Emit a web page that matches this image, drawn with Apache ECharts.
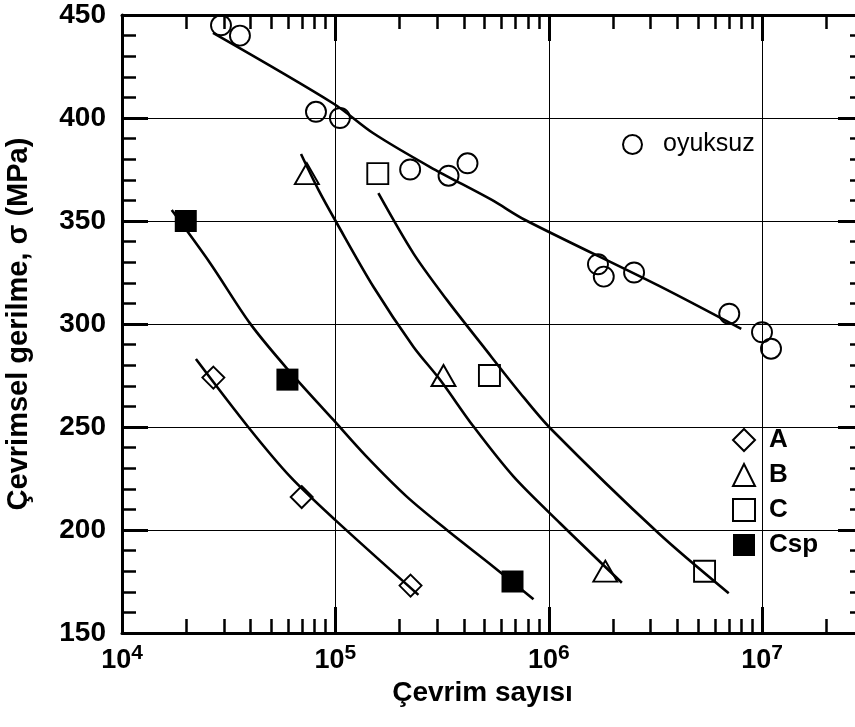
<!DOCTYPE html>
<html>
<head>
<meta charset="utf-8">
<script src="https://cdn.jsdelivr.net/npm/echarts@6/dist/echarts.min.js"></script>
<style>
  html, body { margin: 0; padding: 0; background: #fff; }
  #chart { width: 855px; height: 727px; }
</style>
</head>
<body>
<div id="chart"></div>
<script>
// measured points: cycles to failure (N) and stress amplitude (MPa)
const oyuksuzN = [29100, 35700, 81100, 105000, 224000, 339000, 416000, 1700000, 1810000, 2510000, 7010000, 9980000, 11000000]
const oyuksuzS = [445, 440, 403, 400, 375, 372, 378, 329, 323, 325, 305, 296, 288]
const aN = [26800, 69500, 225000]
const aS = [274, 216, 173]
const bN = [73500, 321000, 1840000]
const bS = [373, 275, 180]
const cN = [158000, 527000, 5370000]
const cS = [373, 275, 180]
const cspN = [19900, 59600, 676000]
const cspS = [350, 273, 175]

// fitted curves
const fitOyuksuzN = [26700, 98600, 150000, 278000, 541000, 775000, 3270000, 7980000]
const fitOyuksuzS = [441.3, 406.8, 392.7, 376.2, 360.2, 350.5, 318.6, 297.6]
const fitAN = [22200, 39100, 61400, 99700, 245000]
const fitAS = [283, 249.9, 225.9, 204.9, 168.5]
const fitBN = [69000, 83300, 101600, 150700, 232000, 310000, 444000, 684000, 1130000, 2200000]
const fitBS = [382.5, 365.1, 348.9, 318.1, 289, 272.8, 250.2, 225.9, 203.3, 174.4]
const fitCN = [159000, 232000, 333000, 494000, 735000, 1016000, 3270000, 6970000]
const fitCS = [363.5, 334.3, 311.7, 289, 266.4, 249.4, 198.4, 169.3]
const fitCspN = [17100, 25900, 39800, 59200, 97900, 140000, 216000, 333000, 550000, 848000]
const fitCspS = [355.3, 329.5, 300.3, 278.5, 253.4, 235.6, 216.2, 200, 182.2, 166.4]

// axis ticks
const xMin = 1e4
const xMax = 3e7
const xMinorTicks = [2e4, 3e4, 4e4, 5e4, 6e4, 7e4, 8e4, 9e4,
  2e5, 3e5, 4e5, 5e5, 6e5, 7e5, 8e5, 9e5,
  2e6, 3e6, 4e6, 5e6, 6e6, 7e6, 8e6, 9e6, 2e7]
const yMin = 150
const yMax = 450
const yStep = 50

const FONT = '"Liberation Sans", Arial, sans-serif'

const zip = (xs, ys) => xs.map((x, i) => [x, ys[i]])

const chart = echarts.init(document.getElementById('chart'))

function logLabel(v) {
  const e = Math.round(Math.log10(v))
  if (Math.abs(Math.log10(v) - e) > 1e-6) return ''
  return '{b|10}{s|' + e + '}'
}

const majorX = (position) => ({
  type: 'log',
  min: xMin,
  max: xMax,
  position: position,
  axisLine: { show: true, lineStyle: { color: '#000', width: 3 } },
  axisTick: { show: true, inside: true, length: 26, lineStyle: { color: '#000', width: 3 } },
  axisLabel: position === 'bottom' ? {
    show: true,
    margin: 10,
    formatter: logLabel,
    rich: {
      b: { fontFamily: FONT, fontWeight: 'bold', fontSize: 27, lineHeight: 31, color: '#000', verticalAlign: 'bottom' },
      s: { fontFamily: FONT, fontWeight: 'bold', fontSize: 21, lineHeight: 21, color: '#000', verticalAlign: 'top' }
    }
  } : { show: false },
  splitLine: { show: position === 'bottom', lineStyle: { color: '#000', width: 1 } },
  minorTick: { show: false }
})

const minorX = (position) => ({
  type: 'log',
  min: xMin,
  max: xMax,
  position: position,
  axisLine: { show: false },
  axisTick: { show: true, inside: true, length: 14, customValues: xMinorTicks, lineStyle: { color: '#000', width: 2.5 } },
  axisLabel: { show: false },
  splitLine: { show: false }
})

const yAxisOf = (position) => ({
  type: 'value',
  min: yMin,
  max: yMax,
  interval: yStep,
  position: position,
  axisLine: { show: true, lineStyle: { color: '#000', width: 3 } },
  axisTick: { show: true, inside: true, length: 26, lineStyle: { color: '#000', width: 3 } },
  minorTick: { show: true, splitNumber: 5, length: 14, lineStyle: { color: '#000', width: 2.5 } },
  axisLabel: position === 'left' ? {
    show: true, margin: 16, color: '#000', fontFamily: FONT, fontWeight: 'bold', fontSize: 28
  } : { show: false },
  splitLine: { show: position === 'left', lineStyle: { color: '#000', width: 1 } },
  name: position === 'left' ? 'Çevrimsel gerilme, σ (MPa)' : '',
  nameLocation: 'middle',
  nameGap: 89,
  nameTextStyle: { color: '#000', fontFamily: FONT, fontWeight: 'bold', fontSize: 29 }
})

const xAxes = [majorX('bottom'), minorX('bottom'), majorX('top'), minorX('top')]
xAxes[0].name = 'Çevrim sayısı'
xAxes[0].nameLocation = 'middle'
xAxes[0].nameGap = 40
xAxes[0].nameTextStyle = { color: '#000', fontFamily: FONT, fontWeight: 'bold', fontSize: 28, padding: [0, 21, 0, 0] }

const fitLine = (xs, ys) => ({
  type: 'line',
  data: zip(xs, ys),
  symbol: 'none',
  smooth: 0.3,
  silent: true,
  lineStyle: { color: '#000', width: 2.6 },
  z: 2
})

const markers = (name, xs, ys, symbol, size, filled) => ({
  name: name,
  type: 'scatter',
  data: zip(xs, ys),
  symbol: symbol,
  symbolSize: size,
  itemStyle: {
    color: filled ? '#000' : 'rgba(0,0,0,0)',
    borderColor: '#000',
    borderWidth: filled ? 0 : 1.9,
    opacity: 1
  },
  z: 3
})

const option = {
  animation: false,
  backgroundColor: '#fff',
  grid: { left: 122, top: 15, width: 742, height: 618, containLabel: false, outerBoundsMode: 'none' },
  xAxis: xAxes,
  yAxis: [yAxisOf('left'), yAxisOf('right')],
  legend: [
    {
      data: ['oyuksuz'],
      left: 622,
      top: 132,
      padding: 0,
      itemWidth: 19,
      itemHeight: 19,
      textStyle: { color: '#000', fontFamily: FONT, fontSize: 25, padding: [0, 0, 0, 16] }
    },
    {
      data: ['A', 'B', 'C', 'Csp'],
      orient: 'vertical',
      left: 732,
      top: 427,
      padding: 0,
      itemGap: 9,
      itemWidth: 22,
      itemHeight: 22,
      itemStyle: { opacity: 1 },
      textStyle: { color: '#000', fontFamily: FONT, fontWeight: 'bold', fontSize: 26, padding: [0, 0, 0, 9] }
    }
  ],
  series: [
    fitLine(fitOyuksuzN, fitOyuksuzS),
    fitLine(fitAN, fitAS),
    fitLine(fitBN, fitBS),
    fitLine(fitCN, fitCS),
    fitLine(fitCspN, fitCspS),
    markers('oyuksuz', oyuksuzN, oyuksuzS, 'circle', 20, false),
    markers('A', aN, aS, 'diamond', 22, false),
    markers('B', bN, bS, 'triangle', [24, 21], false),
    markers('C', cN, cS, 'rect', 21, false),
    markers('Csp', cspN, cspS, 'rect', 22, true)
  ]
}

chart.setOption(option)
</script>
</body>
</html>
